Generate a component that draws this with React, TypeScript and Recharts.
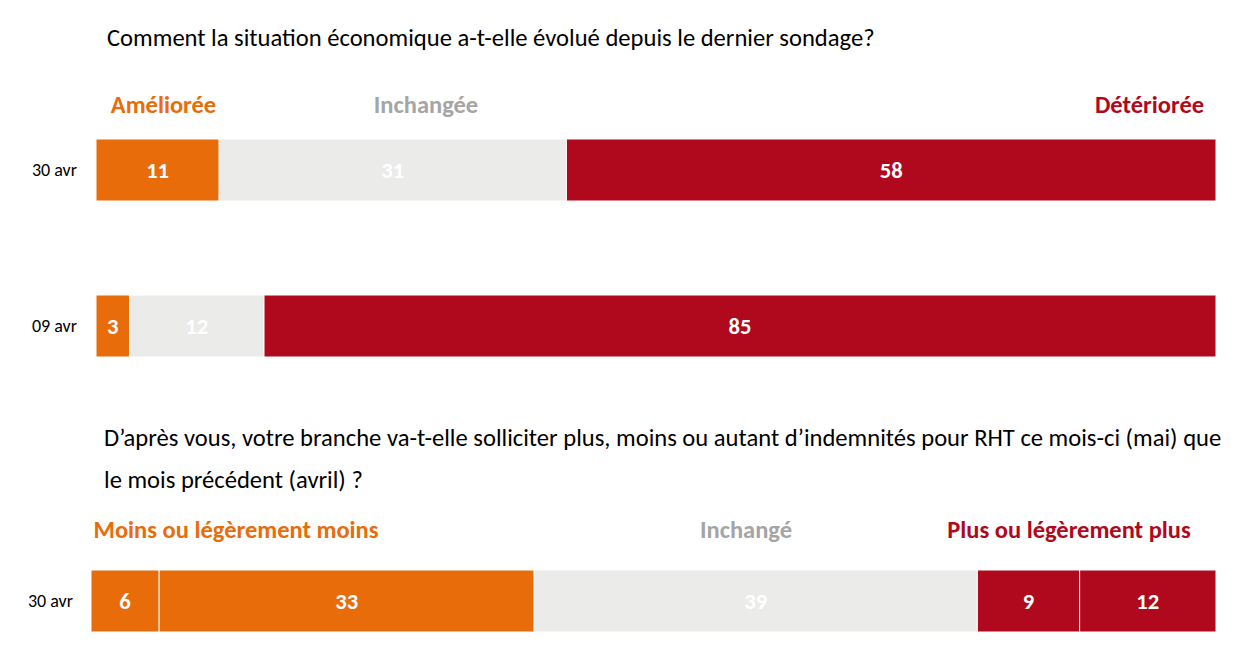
import React from 'react';
import { BarChart, Bar, XAxis, YAxis, LabelList } from 'recharts';

const FONT = "Carlito, Lato, 'Liberation Sans Narrow', Roboto, sans-serif";

const ORANGE = '#E86D0A';
const GREY = '#EBEBE9';
const RED = '#B0081C';
const GREY_TEXT = '#A5A5A5';

// Top chart
const topTitle = 'Comment la situation économique a-t-elle évolué depuis le dernier sondage?';
const topCategories = ['30 avr', '09 avr'];
const topSeriesNames = ['Améliorée', 'Inchangée', 'Détériorée'];
const topAmelioree = [11, 3];
const topInchangee = [31, 12];
const topDeterioree = [58, 85];

// Bottom chart
const bottomTitle1 = 'D’après vous, votre branche va-t-elle solliciter plus, moins ou autant d’indemnités pour RHT ce mois-ci (mai) que';
const bottomTitle2 = 'le mois précédent (avril) ?';
const bottomCategories = ['30 avr'];
const bottomGroupNames = ['Moins ou légèrement moins', 'Inchangé', 'Plus ou légèrement plus'];
const bottomMoins = [6];
const bottomLegerementMoins = [33];
const bottomInchange = [39];
const bottomLegerementPlus = [9];
const bottomPlus = [12];

const topData = topCategories.map((c, i) => ({
  cat: c,
  a: topAmelioree[i],
  b: topInchangee[i],
  c: topDeterioree[i],
}));

const bottomData = bottomCategories.map((c, i) => ({
  cat: c,
  m: bottomMoins[i],
  lm: bottomLegerementMoins[i],
  i: bottomInchange[i],
  lp: bottomLegerementPlus[i],
  p: bottomPlus[i],
}));

const TITLE_SIZE = 24.6;
const LEGEND_SIZE = 24.5;
const VALUE_SIZE = 22.6;
const CAT_SIZE = 18;

const labelStyle = { fill: '#FFFFFF', fontFamily: FONT, fontWeight: 700, fontSize: VALUE_SIZE };

const abs = (left: number, top: number, extra: React.CSSProperties = {}): React.CSSProperties => ({
  position: 'absolute',
  left,
  top,
  fontFamily: FONT,
  whiteSpace: 'nowrap',
  lineHeight: 1,
  ...extra,
});

const centered = (cx: number, cy: number, extra: React.CSSProperties = {}): React.CSSProperties => ({
  ...abs(cx, cy, extra),
  transform: 'translate(-50%, -50%)',
});

export default function App() {
  return (
    <div style={{ position: 'absolute', left: 0, top: 0, width: 1248, height: 654, background: '#fff', overflow: 'hidden' }}>
      <div style={abs(107, 38, { fontSize: TITLE_SIZE, color: '#000', transform: 'translateY(-50%)' })}>{topTitle}</div>

      <div style={centered(163.5, 105, { fontSize: LEGEND_SIZE, fontWeight: 700, color: ORANGE })}>{topSeriesNames[0]}</div>
      <div style={centered(426, 105, { fontSize: LEGEND_SIZE, fontWeight: 700, color: GREY_TEXT })}>{topSeriesNames[1]}</div>
      <div style={centered(1149.5, 105, { fontSize: LEGEND_SIZE, fontWeight: 700, color: RED })}>{topSeriesNames[2]}</div>

      <div style={{ position: 'absolute', left: 0, top: 92 }}>
        <BarChart
          width={1248}
          height={312}
          layout="vertical"
          data={topData}
          margin={{ top: 0, right: 32, bottom: 0, left: 0 }}
          barSize={62}
        >
          <XAxis type="number" domain={[0, 100]} hide />
          <YAxis
            type="category"
            dataKey="cat"
            width={96}
            axisLine={false}
            tickLine={false}
            tickSize={0}
            tickMargin={19}
            tick={{ fill: '#000', fontFamily: FONT, fontSize: CAT_SIZE }}
          />
          <Bar dataKey="a" stackId="s" fill={ORANGE} stroke="#fff" strokeWidth={1} isAnimationActive={false}>
            <LabelList dataKey="a" position="center" style={labelStyle} />
          </Bar>
          <Bar dataKey="b" stackId="s" fill={GREY} stroke="#fff" strokeWidth={1} isAnimationActive={false}>
            <LabelList dataKey="b" position="center" style={labelStyle} />
          </Bar>
          <Bar dataKey="c" stackId="s" fill={RED} stroke="#fff" strokeWidth={1} isAnimationActive={false}>
            <LabelList dataKey="c" position="center" style={labelStyle} />
          </Bar>
        </BarChart>
      </div>

      <div style={abs(104, 438, { fontSize: TITLE_SIZE, color: '#000', transform: 'translateY(-50%)' })}>{bottomTitle1}</div>
      <div style={abs(104, 480, { fontSize: TITLE_SIZE, color: '#000', transform: 'translateY(-50%)' })}>{bottomTitle2}</div>

      <div style={centered(236, 530, { fontSize: LEGEND_SIZE, fontWeight: 700, color: ORANGE })}>{bottomGroupNames[0]}</div>
      <div style={centered(746, 530, { fontSize: LEGEND_SIZE, fontWeight: 700, color: GREY_TEXT })}>{bottomGroupNames[1]}</div>
      <div style={centered(1069, 530, { fontSize: LEGEND_SIZE, fontWeight: 700, color: RED })}>{bottomGroupNames[2]}</div>

      <div style={{ position: 'absolute', left: 0, top: 540 }}>
        <BarChart
          width={1248}
          height={122}
          layout="vertical"
          data={bottomData}
          margin={{ top: 0, right: 32, bottom: 0, left: 0 }}
          barSize={62}
        >
          <XAxis type="number" domain={[0, 99]} hide />
          <YAxis
            type="category"
            dataKey="cat"
            width={91}
            axisLine={false}
            tickLine={false}
            tickSize={0}
            tickMargin={18}
            tick={{ fill: '#000', fontFamily: FONT, fontSize: CAT_SIZE }}
          />
          <Bar dataKey="m" stackId="s" fill={ORANGE} stroke="#fff" strokeWidth={1} isAnimationActive={false}>
            <LabelList dataKey="m" position="center" style={labelStyle} />
          </Bar>
          <Bar dataKey="lm" stackId="s" fill={ORANGE} stroke="#fff" strokeWidth={1} isAnimationActive={false}>
            <LabelList dataKey="lm" position="center" style={labelStyle} />
          </Bar>
          <Bar dataKey="i" stackId="s" fill={GREY} stroke="#fff" strokeWidth={1} isAnimationActive={false}>
            <LabelList dataKey="i" position="center" style={labelStyle} />
          </Bar>
          <Bar dataKey="lp" stackId="s" fill={RED} stroke="#fff" strokeWidth={1} isAnimationActive={false}>
            <LabelList dataKey="lp" position="center" style={labelStyle} />
          </Bar>
          <Bar dataKey="p" stackId="s" fill={RED} stroke="#fff" strokeWidth={1} isAnimationActive={false}>
            <LabelList dataKey="p" position="center" style={labelStyle} />
          </Bar>
        </BarChart>
      </div>
    </div>
  );
}
